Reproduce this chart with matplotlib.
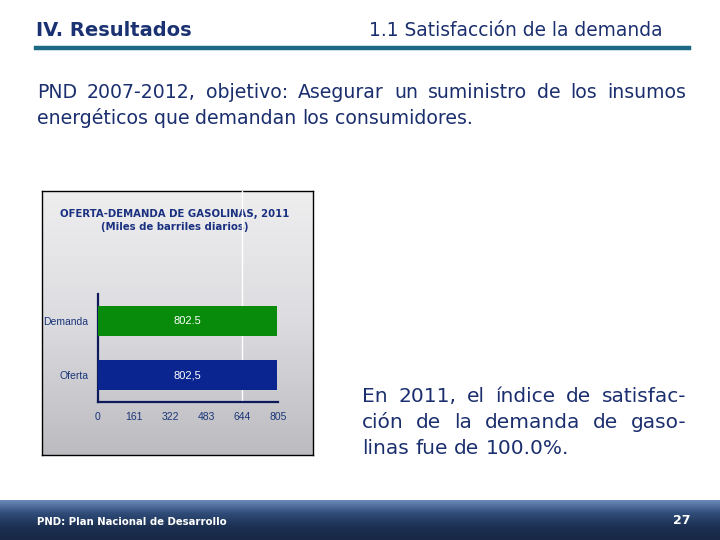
import numpy as np
import matplotlib
matplotlib.use("Agg")
import matplotlib.pyplot as plt
from matplotlib.colors import LinearSegmentedColormap

# ---- data ----
categories = ["Oferta", "Demanda"]
values = [802.5, 802.5]
value_labels = ["802,5", "802.5"]
bar_colors = ["#0a2590", "#088a0a"]
xticks = [0, 161, 322, 483, 644, 805]

header_left = "IV. Resultados"
header_right = "1.1 Satisfacción de la demanda"
body_lines = ["PND 2007-2012, objetivo: Asegurar un suministro de los insumos",
              "energéticos que demandan los consumidores."]
side_lines = ["En 2011, el índice de satisfac-",
              "ción de la demanda de gaso-",
              "linas fue de 100.0%."]
chart_title = "OFERTA-DEMANDA DE GASOLINAS, 2011\n(Miles de barriles diarios)"
footer_left = "PND: Plan Nacional de Desarrollo"
page_num = "27"

W, H = 720, 540
fig = plt.figure(figsize=(7.2, 5.4), dpi=100)
fig.patch.set_facecolor("white")

def fx(x): return x / W
def fy(y): return 1 - y / H

navy = "#1b2f6e"

# header
fig.text(fx(36), fy(30), header_left, fontsize=14, fontweight="bold",
         color="#1a3272", va="center", ha="left", family="DejaVu Sans")
fig.text(fx(663), fy(30), header_right, fontsize=13.4, color="#1b2f6e",
         va="center", ha="right", family="DejaVu Sans")
fig.add_artist(plt.Line2D([fx(36), fx(689)], [fy(48), fy(48)], color="#1d6a86", lw=3.2))

renderer = fig.canvas.get_renderer()

def space_width(fs):
    a = fig.text(0, 0, "a a", fontsize=fs)
    b = fig.text(0, 0, "aa", fontsize=fs)
    w = a.get_window_extent(renderer).width - b.get_window_extent(renderer).width
    a.remove(); b.remove()
    return w

def justified(line, x0, x1, y, fs, justify=True):
    words = line.split(" ")
    arts = [fig.text(0, fy(y), w, fontsize=fs, color=navy, va="center", ha="left")
            for w in words]
    widths = [a.get_window_extent(renderer).width for a in arts]
    total = sum(widths)
    if justify and len(words) > 1:
        gap = (x1 - x0 - total) / (len(words) - 1)
    else:
        gap = space_width(fs)
    x = x0
    for a, w in zip(arts, widths):
        a.set_x(fx(x))
        x += w + gap

# body text
justified(body_lines[0], 37, 686, 92, 13.6)
justified(body_lines[1], 37, 686, 118, 13.6, justify=False)

# side text
justified(side_lines[0], 362, 686, 396, 14.5)
justified(side_lines[1], 362, 686, 422, 14.5)
justified(side_lines[2], 362, 686, 448, 14.5, justify=False)

# chart panel gradient
pan = fig.add_axes([fx(42), fy(455), (313 - 42) / W, (455 - 191) / H])
cmap = LinearSegmentedColormap.from_list("g", ["#eeeeef", "#dcdce0", "#bbbbc0"])
pan.imshow(np.linspace(0, 1, 256).reshape(-1, 1), aspect="auto", cmap=cmap,
           extent=[0, 1, 0, 1], origin="upper")
pan.set_xticks([]); pan.set_yticks([])
for s in pan.spines.values():
    s.set_color("black"); s.set_linewidth(1)
pan.text(0.49, 0.93, chart_title, transform=pan.transAxes, ha="center", va="top",
         fontsize=7.3, fontweight="bold", color="#1a3080", linespacing=1.3,
         family="DejaVu Sans")

# main chart
ax = fig.add_axes([fx(98), fy(402), (278 - 98) / W, (402 - 294) / H])
ax.set_facecolor("none")
ypos = np.arange(len(categories))
bars = ax.barh(ypos, values, height=0.54, color=bar_colors, zorder=3)
ax.set_xlim(0, 805)
ax.set_ylim(-0.5, 1.5)
ax.set_xticks(xticks)
ax.set_yticks(ypos)
ax.set_yticklabels(categories)
ax.axvline(644, 0, 1.95, color="white", lw=1, clip_on=False, zorder=1)
for b, lab in zip(bars, value_labels):
    ax.text(b.get_width() / 2, b.get_y() + b.get_height() / 2, lab, ha="center",
            va="center", color="white", fontsize=8, family="Liberation Sans", zorder=4)
for s in ["top", "right"]:
    ax.spines[s].set_visible(False)
for s in ["left", "bottom"]:
    ax.spines[s].set_color("#0c1a5a"); ax.spines[s].set_linewidth(1.6)
ax.tick_params(axis="both", length=0, labelsize=7.5, labelcolor="#1a3578")
ax.tick_params(axis="x", pad=7)
ax.tick_params(axis="y", pad=7)
for t in ax.get_xticklabels() + ax.get_yticklabels():
    t.set_family("Liberation Sans")

# footer gradient band
foot = fig.add_axes([0, 0, 1, 40 / H])
fcmap = LinearSegmentedColormap.from_list("f", ["#6a8ab8", "#2f4c78", "#1c3052", "#182846"])
foot.imshow(np.linspace(0, 1, 256).reshape(-1, 1), aspect="auto", cmap=fcmap,
            extent=[0, 1, 0, 1], origin="upper")
foot.axis("off")
fig.text(fx(37), fy(522), footer_left, fontsize=7.3, color="white", fontweight="bold",
         va="center", ha="left", family="DejaVu Sans")
fig.text(fx(690), fy(521), page_num, fontsize=9, color="white", fontweight="bold",
         va="center", ha="right", family="DejaVu Sans")

fig.savefig("out.png", dpi=100)
